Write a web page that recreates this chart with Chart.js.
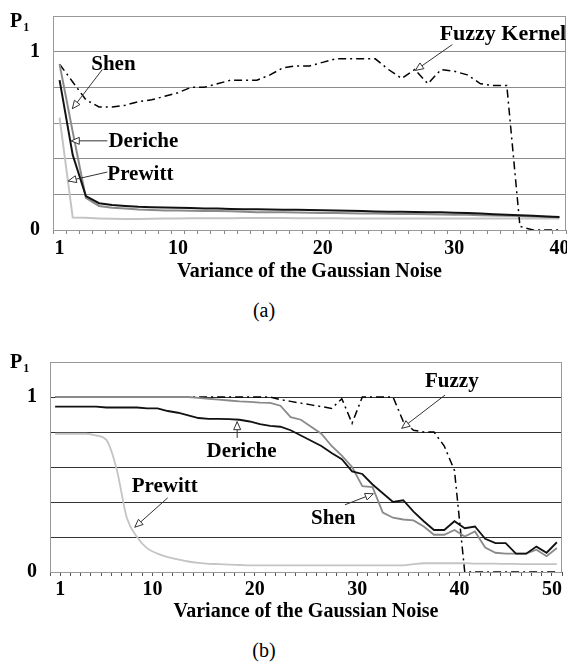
<!DOCTYPE html>
<html>
<head>
<meta charset="utf-8">
<script src="https://cdn.jsdelivr.net/npm/chart.js@4"></script>
<style>
  body { margin: 0; background: #fff; }
  #wrap { position: relative; width: 567px; height: 665px; font-family: "Liberation Serif", "Times New Roman", serif; }
  .box { position: absolute; left: 0; width: 567px; }
  .p1 { position: absolute; left: 10px; font-weight: bold; font-size: 20px; line-height: 20px; }
  .p1 span { font-size: 12px; position: relative; top: 4px; margin-left: 1px; }
  .cap { position: absolute; left: 234px; width: 60px; text-align: center; font-size: 20px; line-height: 24px; }
</style>
</head>
<body>
<div id="wrap">
  <div class="box" style="top:0;height:284px"><canvas id="chartA"></canvas></div>
  <div class="p1" style="top:10px">P<span>1</span></div>
  <div class="cap" style="top:298px">(a)</div>
  <div class="box" style="top:330px;height:294px"><canvas id="chartB"></canvas></div>
  <div class="p1" style="top:351px">P<span>1</span></div>
  <div class="cap" style="top:638px">(b)</div>
</div>
<script>
Chart.defaults.font.family = '"Liberation Serif", "Times New Roman", serif';
Chart.defaults.color = '#000';

// ---- (a) ----
const tickLabelsA = { 0: '1', 9: '10', 20: '20', 30: '30', 38: '40' };
const fuzzyA = [0.93, 0.83, 0.73, 0.69, 0.69, 0.70, 0.72, 0.73, 0.75, 0.77,
                0.80, 0.80, 0.82, 0.84, 0.84, 0.84, 0.87, 0.91, 0.92, 0.92,
                0.94, 0.96, 0.96, 0.96, 0.96, 0.90, 0.85, 0.90, 0.82, 0.90,
                0.89, 0.87, 0.82, 0.81, 0.81, 0.02, 0, 0, 0];
const shenA = [0.93, 0.55, 0.18, 0.135, 0.125, 0.12, 0.115, 0.112, 0.11, 0.11,
               0.108, 0.107, 0.106, 0.105, 0.103, 0.10, 0.10, 0.10, 0.098, 0.097,
               0.096, 0.095, 0.094, 0.093, 0.092, 0.091, 0.09, 0.09, 0.088, 0.087,
               0.086, 0.085, 0.083, 0.082, 0.08, 0.078, 0.076, 0.074, 0.072];
const dericheA = [0.84, 0.42, 0.19, 0.15, 0.14, 0.135, 0.13, 0.128, 0.126, 0.125,
                  0.123, 0.121, 0.12, 0.118, 0.117, 0.116, 0.115, 0.114, 0.113, 0.112,
                  0.111, 0.11, 0.108, 0.106, 0.104, 0.103, 0.102, 0.101, 0.10, 0.099,
                  0.097, 0.095, 0.092, 0.088, 0.085, 0.083, 0.08, 0.076, 0.073];
const prewittA = [0.63, 0.07, 0.068, 0.065, 0.063, 0.062, 0.062, 0.063, 0.064, 0.065,
                  0.066, 0.066, 0.066, 0.066, 0.067, 0.067, 0.067, 0.067, 0.066, 0.066,
                  0.066, 0.066, 0.065, 0.065, 0.065, 0.065, 0.064, 0.064, 0.064, 0.064,
                  0.064, 0.064, 0.065, 0.065, 0.065, 0.065, 0.065, 0.065, 0.065];

// ---- (b) ----
const tickValuesB = [1, 10, 20, 30, 40, 50];
const fuzzyB = [1, 1, 1, 1, 1, 1, 1, 1, 1, 1,
                1, 1, 1, 1, 1, 1, 1, 1, 1, 1,
                1, 1, 0.985, 0.975, 0.965, 0.955, 0.945, 0.935, 0.99, 0.85,
                1, 1, 1, 1, 0.86, 0.81, 0.80, 0.80, 0.72, 0.58,
                0, 0, 0, 0, 0, 0, 0, 0, 0, 0];
const shenB = [1, 1, 1, 1, 1, 1, 1, 1, 1, 1,
               1, 1, 1, 1, 0.995, 0.99, 0.985, 0.98, 0.975, 0.972,
               0.968, 0.966, 0.95, 0.885, 0.87, 0.83, 0.79, 0.72, 0.665, 0.60,
               0.49, 0.485, 0.34, 0.31, 0.30, 0.295, 0.26, 0.213, 0.213, 0.24,
               0.203, 0.232, 0.14, 0.11, 0.105, 0.105, 0.105, 0.127, 0.09, 0.137];
const dericheB = [0.945, 0.945, 0.945, 0.945, 0.945, 0.94, 0.94, 0.94, 0.94, 0.935,
                  0.935, 0.92, 0.91, 0.895, 0.88, 0.875, 0.875, 0.873, 0.87, 0.86,
                  0.845, 0.835, 0.83, 0.81, 0.78, 0.75, 0.72, 0.68, 0.645, 0.575,
                  0.56, 0.50, 0.45, 0.40, 0.41, 0.345, 0.29, 0.24, 0.24, 0.29,
                  0.25, 0.26, 0.19, 0.165, 0.165, 0.105, 0.105, 0.145, 0.11, 0.17];
const prewittB = [0.79, 0.79, 0.79, 0.79, 0.78, 0.755, 0.59, 0.31, 0.20, 0.135,
                  0.105, 0.085, 0.072, 0.06, 0.052, 0.047, 0.045, 0.042, 0.04, 0.038,
                  0.038, 0.038, 0.038, 0.038, 0.038, 0.038, 0.038, 0.038, 0.038, 0.038,
                  0.038, 0.038, 0.038, 0.038, 0.038, 0.045, 0.05, 0.05, 0.05, 0.05,
                  0.05, 0.048, 0.048, 0.048, 0.046, 0.046, 0.045, 0.045, 0.045, 0.045];

// labels + arrows, positions given in axis units
function makeNotes(items, xAxis) {
  return {
    id: 'notes',
    afterDatasetsDraw(chart) {
      const { ctx, scales } = chart;
      const px = v => scales[xAxis].getPixelForValue(v);
      const py = v => scales.y.getPixelForValue(v);
      items.forEach(n => {
        const x1 = px(n.from[0]), y1 = py(n.from[1]);
        const x2 = px(n.to[0]), y2 = py(n.to[1]);
        ctx.save();
        ctx.strokeStyle = '#333';
        ctx.lineWidth = 1;
        ctx.beginPath();
        ctx.moveTo(x1, y1);
        ctx.lineTo(x2, y2);
        ctx.stroke();
        // open triangle head
        const ang = Math.atan2(y2 - y1, x2 - x1), len = 8, w = 3.5;
        const bx = x2 - len * Math.cos(ang), by = y2 - len * Math.sin(ang);
        ctx.beginPath();
        ctx.moveTo(x2, y2);
        ctx.lineTo(bx + w * Math.sin(ang), by - w * Math.cos(ang));
        ctx.lineTo(bx - w * Math.sin(ang), by + w * Math.cos(ang));
        ctx.closePath();
        ctx.fillStyle = '#fff';
        ctx.fill();
        ctx.stroke();
        ctx.font = 'bold ' + (n.size || 21) + 'px "Liberation Serif"';
        ctx.fillStyle = '#000';
        ctx.textAlign = 'center';
        ctx.textBaseline = 'middle';
        ctx.fillText(n.text, px(n.at[0]), py(n.at[1]));
        ctx.restore();
      });
    }
  };
}

function makeFrame(color) {
  return {
    id: 'frame',
    beforeDatasetsDraw(chart) {
      const { ctx, chartArea: a } = chart;
      ctx.save();
      ctx.strokeStyle = color;
      ctx.lineWidth = 1;
      ctx.strokeRect(a.left + 0.5, a.top + 0.5, a.right - a.left - 1, a.bottom - a.top);
      ctx.restore();
    }
  };
}

const boldFont = { size: 20, weight: 'bold' };

function yAxis(gridColor, width) {
  return {
    min: 0,
    max: 1.2,
    ticks: {
      stepSize: 0.2,
      padding: 13,
      font: boldFont,
      // only 0 and 1 are labelled
      callback: v => (Math.abs(v) < 1e-6 || Math.abs(v - 1) < 1e-6) ? Math.round(v) : ''
    },
    grid: { color: gridColor, drawTicks: false, lineWidth: 1 },
    border: { color: '#999' },
    afterFit: s => { s.width = width; s.paddingTop = 0; s.paddingBottom = 0; }
  };
}

const xTitle = {
  display: true,
  text: 'Variance of the Gaussian Noise',
  font: boldFont,
  padding: 0
};

function lineSet(label, data, color, width, dash) {
  return {
    label: label,
    data: data,
    xAxisID: 'x',
    borderColor: color,
    borderWidth: width,
    borderDash: dash || [],
    pointRadius: 0,
    fill: false,
    tension: 0
  };
}

// Chart (a)
new Chart(document.getElementById('chartA'), {
  type: 'line',
  data: {
    labels: fuzzyA.map((_, i) => tickLabelsA[i] || ''),
    datasets: [
      lineSet('Deriche', dericheA, '#111', 2),
      lineSet('Shen', shenA, '#8a8a8a', 2),
      lineSet('Fuzzy Kernel', fuzzyA, '#000', 1.5, [8, 4, 2, 4]),
      lineSet('Prewitt', prewittA, '#c4c4c4', 2)
    ]
  },
  options: {
    responsive: true,
    maintainAspectRatio: false,
    animation: false,
    layout: { padding: { top: 16, right: 1, left: 0, bottom: 0 } },
    plugins: { legend: { display: false }, tooltip: { enabled: false } },
    scales: {
      x: {
        type: 'category',
        offset: true,
        grid: { offset: true, drawOnChartArea: false, tickLength: 4, color: '#888' },
        border: { color: '#888' },
        ticks: { autoSkip: false, maxRotation: 0, padding: 3, font: boldFont },
        title: xTitle,
        afterFit: s => { s.height = 54; s.paddingLeft = 0; s.paddingRight = 0; }
      },
      y: yAxis('#8c8c8c', 53)
    }
  },
  plugins: [
    makeFrame('#999'),
    makeNotes([
      { text: 'Shen', at: [4.09, 0.928], from: [3.25, 0.90], to: [0.97, 0.68] },
      { text: 'Deriche', at: [6.37, 0.494], from: [3.63, 0.50], to: [0.89, 0.50] },
      { text: 'Prewitt', at: [6.14, 0.313], from: [3.63, 0.325], to: [0.66, 0.275] },
      { text: 'Fuzzy Kernel', at: [33.7, 1.097], from: [29.86, 1.04], to: [27.05, 0.895], size: 22 }
    ], 'x')
  ]
});

// Chart (b)
new Chart(document.getElementById('chartB'), {
  type: 'line',
  data: {
    labels: fuzzyB.map((_, i) => String(i + 1)),
    datasets: [
      lineSet('Deriche', dericheB, '#111', 1.8),
      lineSet('Shen', shenB, '#8a8a8a', 1.8),
      lineSet('Fuzzy', fuzzyB, '#000', 1.5, [8, 4, 2, 4]),
      Object.assign(lineSet('Prewitt', prewittB, '#c4c4c4', 1.8), { cubicInterpolationMode: 'monotone' })
    ]
  },
  options: {
    responsive: true,
    maintainAspectRatio: false,
    animation: false,
    layout: { padding: { top: 32, right: 5, left: 0, bottom: 0 } },
    plugins: { legend: { display: false }, tooltip: { enabled: false } },
    scales: {
      x: { type: 'category', offset: true, display: false },
      xt: {
        type: 'linear',
        position: 'bottom',
        min: 0,
        max: 50,
        grid: { drawOnChartArea: false, tickLength: 4, color: '#555' },
        border: { color: '#555' },
        ticks: {
          stepSize: 1,
          autoSkip: false,
          maxRotation: 0,
          padding: 2,
          align: 'inner',
          font: boldFont,
          callback: v => tickValuesB.includes(v) ? v : ''
        },
        title: xTitle,
        afterFit: s => { s.height = 52; s.paddingLeft = 0; s.paddingRight = 0; }
      },
      y: yAxis('#333', 50)
    }
  },
  plugins: [
    makeFrame('#999'),
    makeNotes([
      { text: 'Deriche', at: [18.7, 0.688], from: [18.28, 0.766], to: [18.28, 0.859] },
      { text: 'Prewitt', at: [11.2, 0.487], from: [11.5, 0.424], to: [8.28, 0.256] },
      { text: 'Fuzzy', at: [39.24, 1.087], from: [38.58, 1.011], to: [34.35, 0.821] },
      { text: 'Shen', at: [27.66, 0.308], from: [28.8, 0.384], to: [31.57, 0.447] }
    ], 'xt')
  ]
});
</script>
</body>
</html>
